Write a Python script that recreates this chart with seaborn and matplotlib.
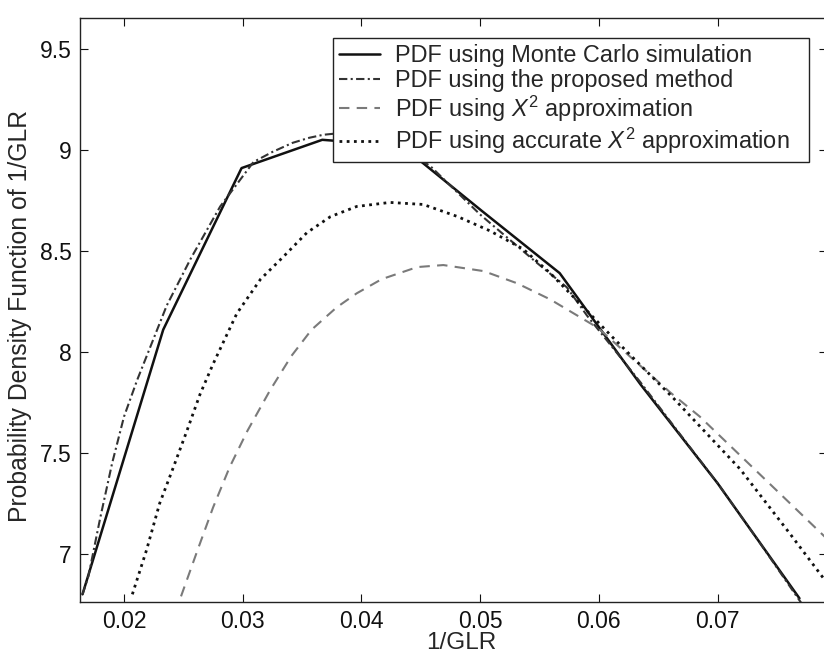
import matplotlib
matplotlib.use('Agg')
import matplotlib.pyplot as plt
import seaborn as sns
import pandas as pd
from matplotlib.ticker import FixedLocator, FormatStrFormatter

# Monte Carlo simulation (piecewise linear)
mc_x = [0.0165, 0.0233, 0.0299, 0.0367, 0.0434, 0.0501, 0.0567, 0.0635, 0.0700, 0.0769]
mc_y = [6.80, 8.11, 8.91, 9.05, 9.02, 8.70, 8.39, 7.84, 7.35, 6.78]

# Proposed method
pm_x = [0.0165, 0.0170, 0.0180, 0.0190, 0.0200, 0.0211, 0.0236, 0.0256, 0.0281, 0.0309,
        0.0325, 0.0342, 0.0356, 0.0368, 0.0385, 0.0400, 0.0434, 0.0458, 0.0500, 0.0548,
        0.0573, 0.0590, 0.0635, 0.0670, 0.0700, 0.0735, 0.0769, 0.0780]
pm_y = [6.80, 6.89, 7.18, 7.45, 7.68, 7.86, 8.23, 8.46, 8.72, 8.94,
        8.99, 9.035, 9.06, 9.075, 9.085, 9.075, 9.01, 8.92, 8.68, 8.44,
        8.32, 8.18, 7.85, 7.58, 7.35, 7.06, 6.77, 6.68]

# X^2 approximation
x2_x = [0.0248, 0.0262, 0.0275, 0.0289, 0.0304, 0.0323, 0.0341, 0.0358, 0.0379, 0.0396,
        0.0417, 0.0447, 0.0469, 0.0503, 0.0531, 0.0559, 0.0599, 0.0660, 0.0685, 0.0793]
x2_y = [6.79, 7.02, 7.23, 7.43, 7.61, 7.81, 7.98, 8.11, 8.22, 8.29,
        8.36, 8.42, 8.43, 8.40, 8.34, 8.26, 8.12, 7.80, 7.68, 7.07]

# Accurate X^2 approximation
ax2_x = [0.0207, 0.0219, 0.0230, 0.0241, 0.0253, 0.0264, 0.0275, 0.0295, 0.0315, 0.0334,
         0.0354, 0.0374, 0.0396, 0.0424, 0.0452, 0.0481, 0.0508, 0.0536, 0.0559, 0.0584,
         0.0612, 0.0663, 0.0719, 0.0761, 0.0793]
ax2_y = [6.80, 7.02, 7.25, 7.42, 7.61, 7.79, 7.94, 8.19, 8.36, 8.47,
         8.59, 8.67, 8.72, 8.74, 8.73, 8.67, 8.60, 8.51, 8.39, 8.24,
         8.07, 7.77, 7.42, 7.10, 6.85]

labels = ['PDF using Monte Carlo simulation',
          'PDF using the proposed method',
          'PDF using $X^2$ approximation',
          'PDF using accurate $X^2$ approximation']

x_ticks = [0.02, 0.03, 0.04, 0.05, 0.06, 0.07]
y_ticks = [7, 7.5, 8, 8.5, 9, 9.5]

sns.set_style('ticks')
plt.rcParams['font.family'] = ['Liberation Sans', 'DejaVu Sans']
plt.rcParams['mathtext.fontset'] = 'custom'
plt.rcParams['mathtext.rm'] = 'Liberation Sans'
plt.rcParams['mathtext.it'] = 'Liberation Sans:italic'

fig = plt.figure(figsize=(8.24, 6.57), dpi=100)
ax = fig.add_axes([80 / 824, 55 / 657, 747 / 824, 584 / 657])

series = [
    (mc_x, mc_y, labels[0], '#111111', '-', 1.8),
    (pm_x, pm_y, labels[1], '#333333', (0, (4, 1.6, 1, 1.6)), 1.5),
    (x2_x, x2_y, labels[2], '#7a7a7a', (0, (5, 3.5)), 1.5),
    (ax2_x, ax2_y, labels[3], '#111111', (0, (1, 1.6)), 2.0),
]
for xs, ys, lab, col, ls, lw in series:
    df = pd.DataFrame({'x': xs, 'y': ys})
    sns.lineplot(data=df, x='x', y='y', ax=ax, color=col, lw=lw,
                 sort=False, estimator=None, label=lab)
    ax.lines[-1].set_linestyle(ls)

ax.set_xlim(0.01629, 0.07922)
ax.set_ylim(6.762, 9.653)
ax.xaxis.set_major_locator(FixedLocator(x_ticks))
ax.yaxis.set_major_locator(FixedLocator(y_ticks))
ax.xaxis.set_major_formatter(FormatStrFormatter('%g'))
ax.yaxis.set_major_formatter(FormatStrFormatter('%g'))
ax.tick_params(direction='in', length=6, width=0.8, top=True, right=True,
               labelsize=16.5, pad=6, colors='#111111')
for s in ax.spines.values():
    s.set_linewidth(1.0)
    s.set_color('#222222')

ax.set_xlabel('1/GLR', fontsize=17.5)
ax.set_ylabel('Probability Density Function of 1/GLR', fontsize=17.8)
ax.xaxis.set_label_coords(0.51, -0.051)
ax.yaxis.set_label_coords(-0.064, 0.49)

leg = ax.legend(loc='upper left', bbox_to_anchor=(0.3387, 0.0, 0.637, 0.9658),
                mode='expand', fontsize=16.9,
                frameon=True, fancybox=False, framealpha=1, edgecolor='#222222',
                borderpad=0.25, labelspacing=0.08, handlelength=1.75,
                handletextpad=0.65, borderaxespad=0)
leg.get_frame().set_linewidth(1.0)

fig.savefig('out.png', dpi=100, facecolor='white')
